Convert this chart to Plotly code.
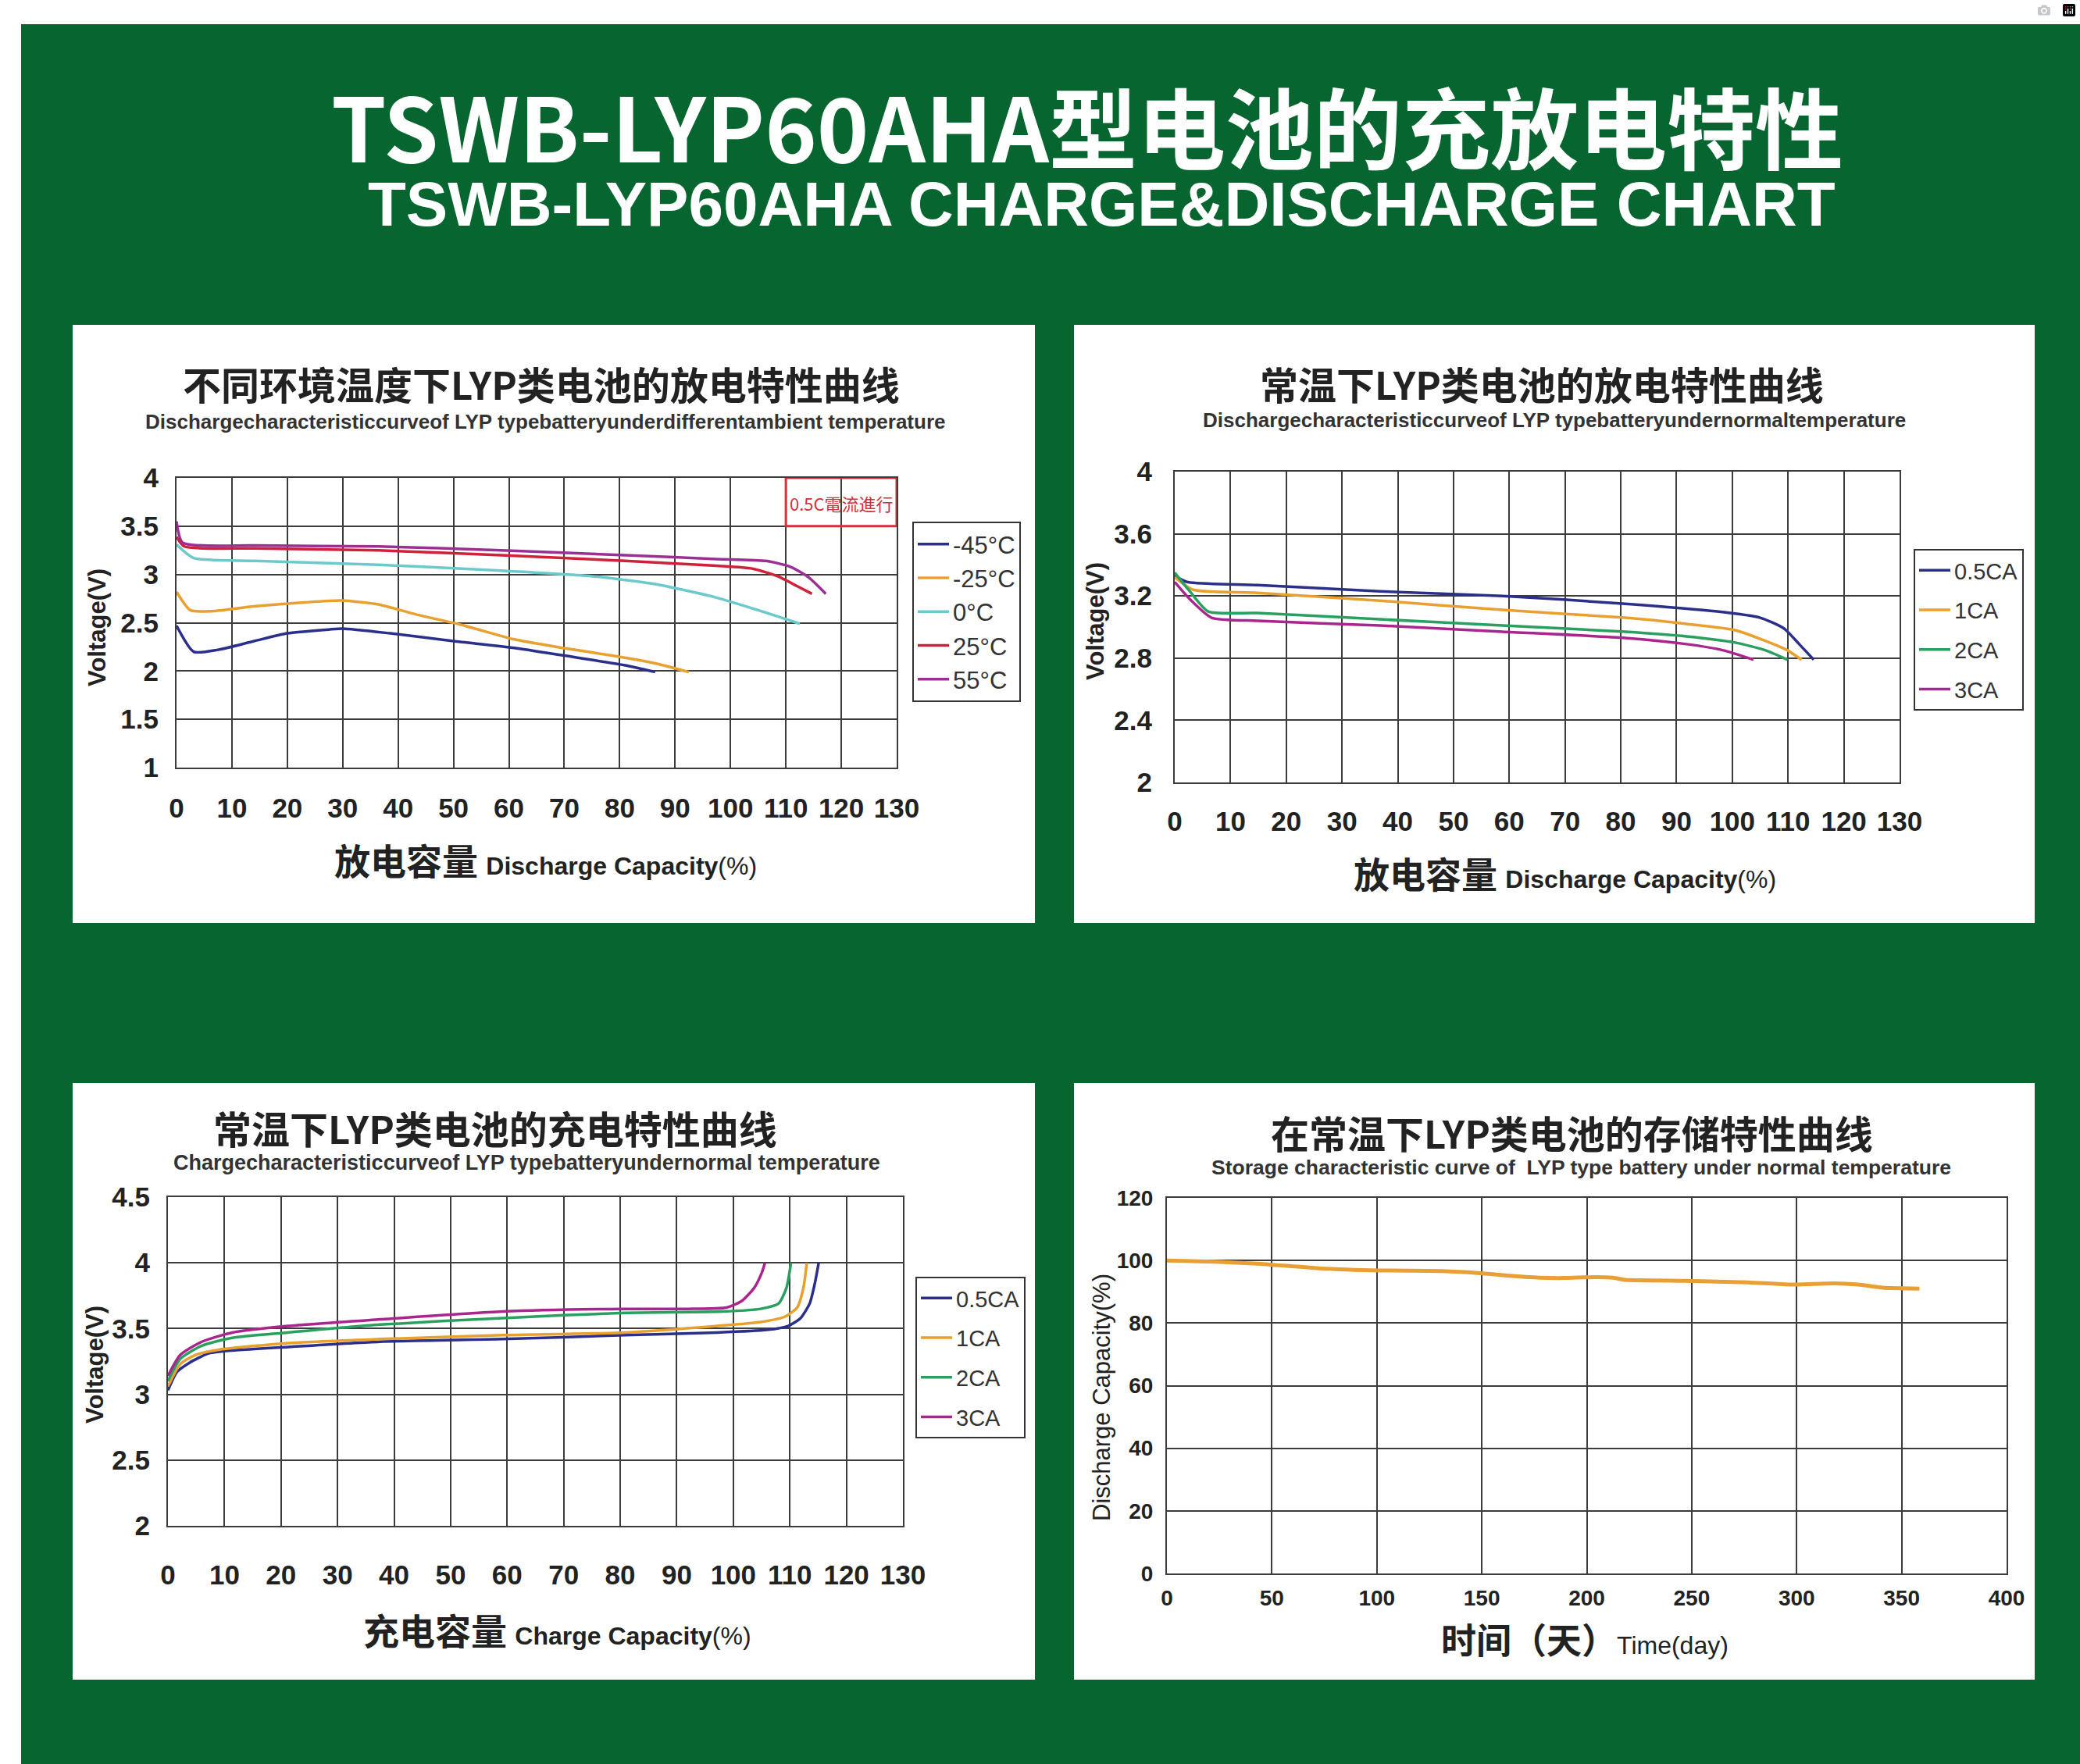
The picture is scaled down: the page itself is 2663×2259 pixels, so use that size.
import plotly.graph_objects as go

W, H = 2663, 2259


def px(x):
    return x / W


def py(y):
    return 1 - y / H


GREEN = '#07662f'
GRID = '#3c3c3c'
SANS = 'Liberation Sans, Arial, sans-serif'
CJK = 'Noto Sans CJK SC, Noto Sans, sans-serif'

# ---------------- Chart 1: discharge at different temperatures ----------------
temp_labels = ['-45°C', '-25°C', '0°C', '25°C', '55°C']
temp_colors = ['#2b2f8a', '#e8a030', '#6cc9cc', '#d0213a', '#9b2f93']
m45_x = [0, 3.1, 7.5, 14, 20, 27.5, 30, 38.6, 50, 61, 70, 81, 86.4]
m45_y = [2.47, 2.20, 2.22, 2.31, 2.39, 2.43, 2.44, 2.39, 2.31, 2.24, 2.16, 2.06, 1.99]
m25_x = [0, 2.5, 6.4, 14, 23, 29.8, 36.4, 43, 52, 60.8, 69.7, 78.6, 86.4, 92.5]
m25_y = [2.82, 2.63, 2.62, 2.67, 2.71, 2.73, 2.69, 2.59, 2.47, 2.33, 2.24, 2.16, 2.08, 1.99]
t0_x = [0, 3.1, 14, 36.4, 58.6, 75.3, 86.4, 97.5, 105, 112.5]
t0_y = [3.31, 3.17, 3.14, 3.10, 3.04, 2.98, 2.90, 2.76, 2.63, 2.49]
t25_x = [0, 1.4, 14, 36.4, 58.6, 81, 97.5, 104, 108.6, 112, 114.7]
t25_y = [3.39, 3.29, 3.27, 3.25, 3.20, 3.14, 3.09, 3.06, 2.98, 2.88, 2.80]
t55_x = [0, 1.1, 14, 36.4, 58.6, 81, 97.5, 106.4, 110.8, 114.1, 117.2]
t55_y = [3.55, 3.33, 3.30, 3.29, 3.25, 3.20, 3.16, 3.14, 3.08, 2.97, 2.80]
temp_series = [(m45_x, m45_y), (m25_x, m25_y), (t0_x, t0_y), (t25_x, t25_y), (t55_x, t55_y)]

# ---------------- Chart 2: discharge at normal temperature ----------------
rate_labels = ['0.5CA', '1CA', '2CA', '3CA']
rate_colors = ['#2b2f8a', '#e8a030', '#2aa060', '#a8268e']
d05_x = [0, 2.2, 14.8, 36.8, 58.8, 80.8, 97.3, 105, 109.3, 112, 114.6]
d05_y = [3.33, 3.29, 3.27, 3.23, 3.20, 3.15, 3.10, 3.06, 2.99, 2.89, 2.79]
d1_x = [0, 3.3, 14.8, 36.8, 58.8, 80.8, 91.8, 100.5, 106, 109.9, 112.4]
d1_y = [3.32, 3.24, 3.22, 3.17, 3.11, 3.06, 3.02, 2.98, 2.91, 2.85, 2.79]
d2_x = [0, 2.7, 6, 14.8, 36.8, 58.8, 80.8, 91.8, 100.5, 106, 109.9]
d2_y = [3.35, 3.23, 3.10, 3.09, 3.05, 3.01, 2.97, 2.94, 2.90, 2.85, 2.79]
d3_x = [0, 2.7, 6.6, 14.8, 36.8, 58.8, 80.8, 91.8, 98.4, 103.8]
d3_y = [3.29, 3.18, 3.06, 3.04, 3.01, 2.97, 2.93, 2.89, 2.85, 2.79]
dis_series = [(d05_x, d05_y), (d1_x, d1_y), (d2_x, d2_y), (d3_x, d3_y)]

# ---------------- Chart 3: charge at normal temperature ----------------
c05_x = [0, 1.6, 3.8, 7.1, 10.3, 21.2, 37.5, 59.2, 80.9, 97.2, 105.9, 109.7, 111.9, 113.5, 114.4, 115.1]
c05_y = [3.03, 3.17, 3.24, 3.31, 3.33, 3.36, 3.40, 3.42, 3.45, 3.47, 3.49, 3.52, 3.58, 3.69, 3.84, 4.00]
c1_x = [0, 2.2, 4.9, 9.2, 21.2, 37.5, 59.2, 80.9, 97.2, 104.8, 109.1, 111.3, 112.4, 113.0]
c1_y = [3.06, 3.23, 3.30, 3.34, 3.39, 3.42, 3.45, 3.47, 3.52, 3.55, 3.59, 3.66, 3.81, 4.00]
c2_x = [0, 2.2, 6, 11.4, 21.2, 37.5, 59.2, 80.9, 98.3, 104.8, 108, 109.4, 110.2]
c2_y = [3.10, 3.27, 3.37, 3.43, 3.47, 3.53, 3.58, 3.62, 3.63, 3.65, 3.69, 3.81, 4.00]
c3_x = [0, 2.2, 6, 11.4, 21.2, 37.5, 59.2, 80.9, 91.8, 98.8, 101.5, 103.7, 105.0, 105.6]
c3_y = [3.14, 3.30, 3.40, 3.47, 3.52, 3.57, 3.63, 3.65, 3.65, 3.66, 3.71, 3.81, 3.92, 4.00]
chg_series = [(c05_x, c05_y), (c1_x, c1_y), (c2_x, c2_y), (c3_x, c3_y)]

# ---------------- Chart 4: storage ----------------
store_days = [0, 22.8, 43, 72.4, 101.6, 130.8, 148, 160, 177.5, 189.2, 203.8, 212.6, 218.4,
              247.6, 276.8, 297.2, 317.7, 329.3, 341, 358.5]
store_cap = [100, 99.6, 99.0, 97.5, 96.8, 96.6, 96.0, 95.3, 94.5, 94.4, 94.7, 94.5, 93.8,
             93.5, 93.0, 92.3, 92.7, 92.3, 91.3, 91.0]

v1_ticks = [1, 1.5, 2, 2.5, 3, 3.5, 4]
v2_ticks = [2, 2.4, 2.8, 3.2, 3.6, 4]
v3_ticks = [2, 2.5, 3, 3.5, 4, 4.5]

fig = go.Figure()

for (xs, ys), name, col in zip(temp_series, temp_labels, temp_colors):
    fig.add_trace(go.Scatter(x=xs, y=ys, name=name, mode='lines',
                             line=dict(color=col, width=3.5, shape='spline', smoothing=0.6),
                             xaxis='x', yaxis='y', legend='legend'))
for (xs, ys), name, col in zip(dis_series, rate_labels, rate_colors):
    fig.add_trace(go.Scatter(x=xs, y=ys, name=name, mode='lines', legendgroup='d' + name,
                             line=dict(color=col, width=3.5, shape='spline', smoothing=0.6),
                             xaxis='x2', yaxis='y2', legend='legend2'))
for (xs, ys), name, col in zip(chg_series, rate_labels, rate_colors):
    fig.add_trace(go.Scatter(x=xs, y=ys, name=name, mode='lines', legendgroup='c' + name,
                             line=dict(color=col, width=3.5, shape='spline', smoothing=0.6),
                             xaxis='x3', yaxis='y3', legend='legend3'))
fig.add_trace(go.Scatter(x=store_days, y=store_cap, mode='lines', showlegend=False,
                         line=dict(color='#e8a035', width=5, shape='spline', smoothing=0.5),
                         xaxis='x4', yaxis='y4'))


def ax(domain, rng, dtick, anchor, font, standoff):
    return dict(domain=domain, range=rng, dtick=dtick, tick0=rng[0], anchor=anchor,
                showgrid=True, gridcolor=GRID, gridwidth=2, showline=True, mirror=True,
                linecolor=GRID, linewidth=2, zeroline=False, ticks='', fixedrange=True,
                tickfont=font, ticklabelstandoff=standoff, tickangle=0, automargin=False)


big_tick = dict(family=SANS, size=35, color='#222', weight='bold')
st_tick = dict(family=SANS, size=28, color='#222', weight='bold')

layout = dict(
    autosize=True,
    margin=dict(l=0, r=0, t=0, b=0, pad=0, autoexpand=False),
    paper_bgcolor='white', plot_bgcolor='white',
    xaxis=ax([px(226), px(1148)], [0, 130], 10, 'y', big_tick, 20),
    yaxis=ax([py(983), py(612)], [1, 4], 0.5, 'x', big_tick, 14),
    xaxis2=ax([px(1504), px(2432)], [0, 130], 10, 'y2', big_tick, 18),
    yaxis2=ax([py(1002), py(604)], [2, 4], 0.4, 'x2', big_tick, 20),
    xaxis3=ax([px(215), px(1156)], [0, 130], 10, 'y3', big_tick, 31),
    yaxis3=ax([py(1954), py(1533)], [2, 4.5], 0.5, 'x3', big_tick, 14),
    xaxis4=ax([px(1494), px(2569)], [0, 400], 50, 'y4', st_tick, 5),
    yaxis4=ax([py(2015), py(1534)], [0, 120], 20, 'x4', st_tick, 10),
)
layout['yaxis']['tickvals'] = v1_ticks
layout['yaxis']['ticktext'] = [f'{v:g}' for v in v1_ticks]
layout['yaxis2']['tickvals'] = v2_ticks
layout['yaxis2']['ticktext'] = [f'{v:g}' for v in v2_ticks]
layout['yaxis3']['tickvals'] = v3_ticks
layout['yaxis3']['ticktext'] = [f'{v:g}' for v in v3_ticks]

leg_common = dict(bgcolor='white', bordercolor='#333', borderwidth=2,
                  font=dict(family=SANS, size=31, color='#333'),
                  xanchor='left', yanchor='top', itemwidth=40, tracegroupgap=0,
                  orientation='v')
leg_rate = dict(leg_common, font=dict(family=SANS, size=29, color='#333'), tracegroupgap=10)
layout['legend'] = dict(leg_common, x=px(1168), y=py(668))
layout['legend2'] = dict(leg_rate, x=px(2450), y=py(703))
layout['legend3'] = dict(leg_rate, x=px(1172), y=py(1635))

fig.update_layout(**layout)

shapes = []
shapes.append(dict(type='rect', xref='paper', yref='paper', x0=px(27), x1=1, y0=0, y1=py(31),
                   fillcolor=GREEN, line=dict(width=0), layer='below'))
for (x0, y0, x1, y1) in [(93, 416, 1325, 1182), (1375, 416, 2605, 1182),
                         (93, 1387, 1325, 2151), (1375, 1387, 2605, 2151)]:
    shapes.append(dict(type='rect', xref='paper', yref='paper', x0=px(x0), x1=px(x1),
                       y0=py(y1), y1=py(y0), fillcolor='white', line=dict(width=0),
                       layer='below'))
shapes.append(dict(type='rect', xref='x', yref='y', x0=110, x1=130, y0=3.5, y1=4,
                   line=dict(color='#d3303c', width=3), fillcolor='rgba(0,0,0,0)'))
fig.update_layout(shapes=shapes)

ann = []


def text(x, y, t, size, family=CJK, color='#222', weight='normal', angle=0):
    ann.append(dict(xref='paper', yref='paper', x=x, y=y, text=t, showarrow=False,
                    xanchor='center', yanchor='middle', textangle=angle,
                    font=dict(family=family, size=size, color=color, weight=weight)))


text(px(1392), py(159), 'TSWB-LYP60AHA型电池的充放电特性', 113, color='white', weight='bold')
text(px(1410), py(261), 'TSWB-LYP60AHA CHARGE&amp;DISCHARGE CHART', 80, family=SANS,
     color='white', weight='bold')

text(px(693), py(491), '不同环境温度下LYP类电池的放电特性曲线', 49, weight='bold')
text(px(698), py(540), 'Dischargecharacteristiccurveof LYP typebatteryunderdifferentambient temperature',
     26, family=SANS, color='#333', weight='bold')
text(px(1974), py(491), '常温下LYP类电池的放电特性曲线', 49, weight='bold')
text(px(1990), py(538), 'Dischargecharacteristiccurveof LYP typebatteryundernormaltemperature',
     26, family=SANS, color='#333', weight='bold')
text(px(634), py(1443), '常温下LYP类电池的充电特性曲线', 49, weight='bold')
text(px(674), py(1489), 'Chargecharacteristiccurveof LYP typebatteryundernormal temperature',
     27, family=SANS, color='#333', weight='bold')
text(px(2012), py(1450), '在常温下LYP类电池的存储特性曲线', 49, weight='bold')
text(px(2024), py(1495), 'Storage characteristic curve of  LYP type battery under normal temperature',
     26.5, family=SANS, color='#333', weight='bold')

en = "<span style='font-family:Liberation Sans, Arial, sans-serif;font-size:32px'>"
text(px(698), py(1100), '<b>放电容量</b> ' + en + '<b>Discharge Capacity</b>(%)</span>', 46)
text(px(2003), py(1117), '<b>放电容量</b> ' + en + '<b>Discharge Capacity</b>(%)</span>', 46)
text(px(713), py(2086), '<b>充电容量</b> ' + en + '<b>Charge Capacity</b>(%)</span>', 46)
text(px(2029), py(2098), '<b>时间（天）</b>' + en + 'Time(day)</span>', 45)

text(px(124), py(804), 'Voltage(V)', 31, family=SANS, weight='bold', angle=-90)
text(px(1402), py(795), 'Voltage(V)', 31, family=SANS, weight='bold', angle=-90)
text(px(121), py(1748), 'Voltage(V)', 31, family=SANS, weight='bold', angle=-90)
text(px(1410), py(1790), 'Discharge Capacity(%)', 31, family=SANS, angle=-90)

ann.append(dict(xref='x', yref='y', x=120, y=3.74, text='0.5C電流進行', showarrow=False,
                font=dict(family=CJK, size=22, color='#d3303c')))

fig.update_layout(annotations=ann)

post = """
var gd = document.getElementById('{plot_id}');
var de = document.documentElement, bd = document.body;
de.style.margin = '0'; de.style.padding = '0'; de.style.height = '100%'; de.style.overflow = 'hidden';
bd.style.margin = '0'; bd.style.padding = '0'; bd.style.height = '100%'; bd.style.overflow = 'hidden';
gd.parentElement.style.height = '100%'; gd.parentElement.style.width = '100%';
gd.style.height = '100%'; gd.style.width = '100%';
Plotly.Plots.resize(gd);
"""
fig.write_html('out.html', default_width='100%', default_height='100%', post_script=post)
